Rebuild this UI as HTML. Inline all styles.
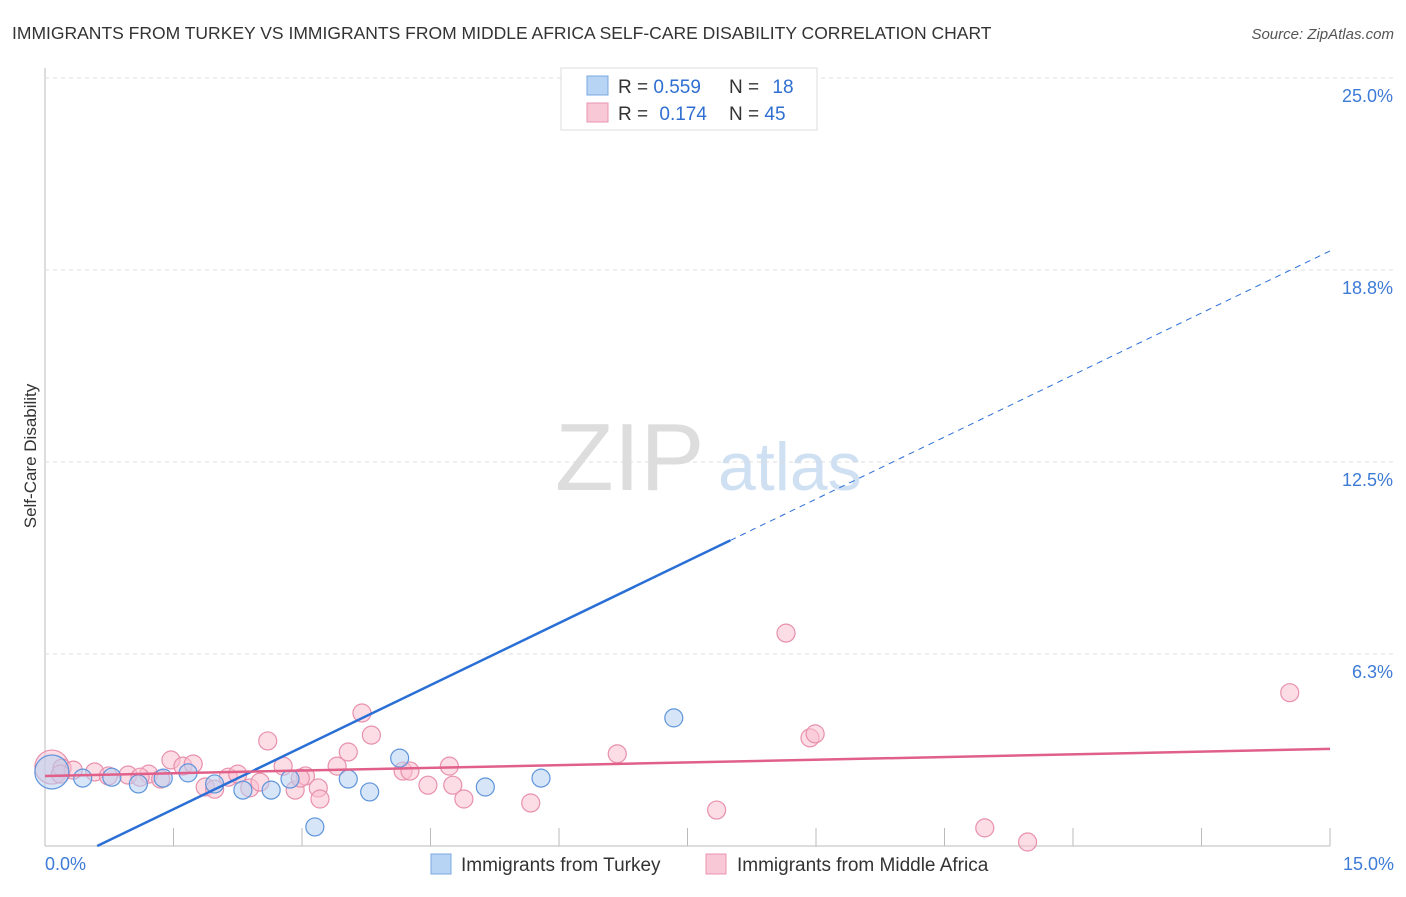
<!DOCTYPE html>
<html><head><meta charset="utf-8"><style>
body{margin:0;background:#fff;font-family:"Liberation Sans",sans-serif}
svg text{font-family:"Liberation Sans",sans-serif}
</style></head><body>
<svg id="c" width="1406" height="892" xmlns="http://www.w3.org/2000/svg">
<text x="12" y="39" font-size="17.5" fill="#333">IMMIGRANTS FROM TURKEY VS IMMIGRANTS FROM MIDDLE AFRICA SELF-CARE DISABILITY CORRELATION CHART</text>
<text x="1394" y="39" font-size="15" fill="#555" font-style="italic" text-anchor="end">Source: ZipAtlas.com</text>
<text x="36" y="456" font-size="17" fill="#333" text-anchor="middle" transform="rotate(-90 36 456)">Self-Care Disability</text>
<text x="555" y="490" font-size="96" fill="#ddd" font-family="Liberation Serif">ZIP</text>
<text x="718" y="490" font-size="68" fill="#cfe0f3">atlas</text>
<g id="grid"></g><g id="pts"></g><g id="lines"></g>
<g>
<rect x="561" y="68" width="256" height="62" fill="#fff" stroke="#ddd"/>
<rect x="587" y="76" width="21" height="19" fill="#b8d4f5" stroke="#7aa8e0"/>
<rect x="587" y="103" width="21" height="19" fill="#f9c8d6" stroke="#e995b0"/>
<text x="618" y="93" font-size="19" fill="#333">R = <tspan fill="#2f6fd1">0.559</tspan></text>
<text x="729" y="93" font-size="19" fill="#333">N = <tspan fill="#2f6fd1" dx="8">18</tspan></text>
<text x="618" y="120" font-size="19" fill="#333">R = <tspan fill="#2f6fd1" dx="6">0.174</tspan></text>
<text x="729" y="120" font-size="19" fill="#333">N = <tspan fill="#2f6fd1">45</tspan></text>
</g>
<g>
<rect x="431" y="854" width="20" height="20" fill="#b8d4f5" stroke="#7aa8e0"/>
<text x="461" y="871" font-size="19" fill="#333">Immigrants from Turkey</text>
<rect x="706" y="854" width="20" height="20" fill="#f9c8d6" stroke="#e995b0"/>
<text x="737" y="871" font-size="19" fill="#333">Immigrants from Middle Africa</text>
</g>
<text x="45" y="870" font-size="18" fill="#3d7bd6">0.0%</text>
<text x="1394" y="870" font-size="18" fill="#3d7bd6" text-anchor="end">15.0%</text>
</svg>
<script>
const yTicks=[6.25,12.5,18.75,25];
const yTickLabels=["6.3%","12.5%","18.8%","25.0%"];
const xTicks=[1.5,3,4.5,6,7.5,9,10.5,12,13.5,15];
const turkeyX=[0.08,0.44,0.78,1.09,1.38,1.67,1.98,2.31,2.64,2.86,3.15,3.54,3.79,4.14,5.14,5.79,7.34,7.84];
const turkeyY=[2.41,2.21,2.24,2.02,2.21,2.38,2.02,1.82,1.82,2.18,0.62,2.18,1.76,2.86,1.92,2.21,4.17,24.9];
const africaX=[0.08,0.2,0.33,0.58,0.74,0.97,1.21,1.35,1.47,1.61,1.73,1.87,1.98,2.14,2.25,2.39,2.51,2.6,2.78,2.92,3.04,3.19,3.21,3.41,3.54,3.7,3.81,4.18,4.26,4.47,4.72,4.76,4.89,5.67,6.68,7.84,8.65,8.93,8.99,10.97,11.47,14.53,1.11,2.98,0.18];
const africaY=[2.57,2.54,2.47,2.41,2.28,2.31,2.34,2.18,2.8,2.6,2.67,1.92,1.85,2.24,2.34,1.89,2.08,3.42,2.6,1.82,2.28,1.89,1.53,2.6,3.06,4.33,3.61,2.44,2.44,1.98,2.6,1.98,1.53,1.4,3.0,1.17,6.93,3.52,3.65,0.59,0.13,4.99,2.24,2.21,2.34];
const turkeyLine=[-0.82,1.346];
const africaLine=[2.28,0.0587];
const X=v=>45+v*(1285/15), Y=v=>846-v*30.72;
const NS="http://www.w3.org/2000/svg";
function mk(p,t,a){const e=document.createElementNS(NS,t);for(const k in a)e.setAttribute(k,a[k]);p.appendChild(e);return e;}
const g=document.getElementById('grid');
const ax=mk(g,'line',{x1:45,y1:68,x2:45,y2:846,stroke:'#bbb'});


const bx=mk(g,'line',{x1:45,y1:846,x2:1330,y2:846,stroke:'#bbb'});


yTicks.forEach((t,i)=>{
 const l=mk(g,'line',{x1:45,y1:Y(t),x2:1394,y2:Y(t),stroke:'#ddd','stroke-dasharray':'4,4'});
 
 
 const tx=mk(g,'text',{x:1393,y:Y(t)+24,'font-size':18,fill:'#3d7bd6','text-anchor':'end'});
 tx.textContent=yTickLabels[i];
 
 
});
xTicks.forEach(t=>{
 const l=mk(g,'line',{x1:X(t),y1:828,x2:X(t),y2:846,stroke:'#bbb'});
 
 
});
const P=document.getElementById('pts');
function dots(xs,ys,fill,stroke,name){xs.forEach((x,i)=>{
 const r=(i===0&&x<0.1)?17:9;
 const c=mk(P,'circle',{cx:X(x),cy:Y(ys[i]),r:r,fill:fill,stroke:stroke,'stroke-width':1.2,'fill-opacity':0.55});
 
 
});}
dots(africaX,africaY,'#f9c0d0','#e890ad','africa-point');
dots(turkeyX,turkeyY,'#b5d0f2','#5f95da','turkey-point');
const L=document.getElementById('lines');
const xs0=(0-turkeyLine[0])/turkeyLine[1];
const tl=mk(L,'line',{x1:X(Math.max(0,xs0)),y1:Y(turkeyLine[0]+turkeyLine[1]*Math.max(0,xs0)),x2:X(8),y2:Y(turkeyLine[0]+turkeyLine[1]*8),stroke:'#2a6fd6','stroke-width':2.5});


const td=mk(L,'line',{x1:X(8),y1:Y(turkeyLine[0]+turkeyLine[1]*8),x2:X(15),y2:Y(turkeyLine[0]+turkeyLine[1]*15),stroke:'#2a6fd6','stroke-width':1,'stroke-dasharray':'6,5'});


const al=mk(L,'line',{x1:X(0),y1:Y(africaLine[0]),x2:X(15),y2:Y(africaLine[0]+africaLine[1]*15),stroke:'#e0608a','stroke-width':2.5});


</script>
</body></html>
